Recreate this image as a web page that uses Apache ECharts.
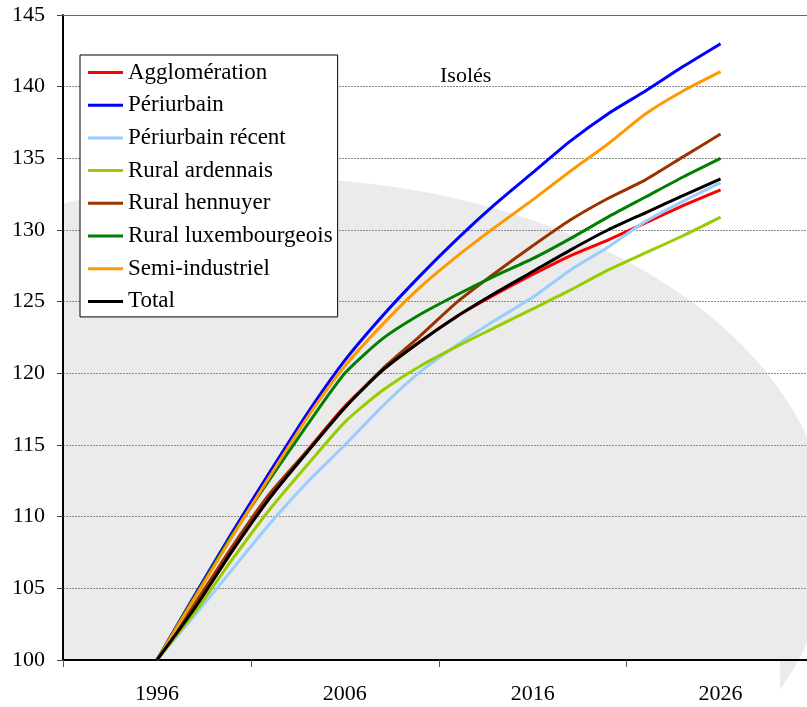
<!DOCTYPE html>
<html>
<head>
<meta charset="utf-8">
<script src="https://cdn.jsdelivr.net/npm/echarts@6/dist/echarts.min.js"></script>
<style>
html,body{margin:0;padding:0;background:#fff;}
#chart{width:807px;height:707px;}
</style>
</head>
<body>
<div id="chart"></div>
<script>
// ---- data ----
const years = [1996, 1998, 2000, 2002, 2004, 2006, 2008, 2010, 2012, 2014, 2016, 2018, 2020, 2022, 2024, 2026];
const seriesNames = ['Agglomération', 'Périurbain', 'Périurbain récent', 'Rural ardennais', 'Rural hennuyer', 'Rural luxembourgeois', 'Semi-industriel', 'Total'];
const agglomeration      = [100, 103.6, 107.6, 111.3, 114.6, 117.7, 120.2, 122.2, 124.0, 125.5, 126.9, 128.2, 129.3, 130.5, 131.7, 132.8];
const periurbain         = [100, 104.5, 108.9, 113.1, 117.2, 120.9, 124.0, 126.8, 129.4, 131.8, 134.0, 136.2, 138.1, 139.7, 141.4, 143.0];
const periurbainRecent   = [100, 103.1, 106.3, 109.5, 112.4, 115.0, 117.7, 120.1, 122.0, 123.7, 125.3, 127.2, 128.8, 130.6, 132.0, 133.3];
const ruralArdennais     = [100, 103.3, 107.0, 110.5, 113.6, 116.6, 118.8, 120.5, 121.9, 123.2, 124.5, 125.8, 127.2, 128.4, 129.6, 130.9];
const ruralHennuyer      = [100, 103.9, 107.9, 111.6, 114.6, 117.6, 120.3, 122.6, 125.0, 127.0, 128.9, 130.7, 132.2, 133.5, 135.1, 136.7];
const ruralLuxembourgeois= [100, 104.4, 108.7, 112.6, 116.4, 120.0, 122.4, 124.1, 125.5, 126.8, 128.0, 129.4, 130.9, 132.3, 133.7, 135.0];
const semiIndustriel     = [100, 104.3, 108.6, 112.8, 116.9, 120.5, 123.4, 126.0, 128.2, 130.2, 132.1, 134.1, 136.0, 138.1, 139.7, 141.05];
const total              = [100, 103.6, 107.6, 111.3, 114.5, 117.6, 120.2, 122.2, 124.0, 125.6, 127.1, 128.6, 130.0, 131.2, 132.4, 133.56];
const xTickYears  = [1991, 2001, 2011, 2021];
const xLabelYears = [1996, 2006, 2016, 2026];
const subtitle = 'Isolés';

const values = [agglomeration, periurbain, periurbainRecent, ruralArdennais, ruralHennuyer, ruralLuxembourgeois, semiIndustriel, total];
const colors = ['#ff0000', '#0000ff', '#99ccff', '#99cc00', '#993300', '#008000', '#ff9900', '#000000'];

const FONT = 'Liberation Serif';
const chart = echarts.init(document.getElementById('chart'), null, {renderer: 'canvas'});

const series = seriesNames.map((name, i) => ({
  name: name,
  type: 'line',
  data: years.map((y, k) => [y, values[i][k]]),
  symbol: 'none',
  smooth: 0.2,
  lineStyle: {color: colors[i], width: 3},
  itemStyle: {color: colors[i]},
  z: 3 + i
}));

chart.setOption({
  animation: false,
  backgroundColor: '#fff',
  color: colors,
  title: {
    text: subtitle, left: 440, top: 65, padding: 0,
    textStyle: {fontFamily: FONT, fontSize: 22, fontWeight: 'normal', color: '#000'}
  },
  graphic: [
    {type: 'ellipse', shape: {cx: 270, cy: 540, rx: 560, ry: 362}, style: {fill: '#ebebeb'}, z: -10, silent: true},
    {type: 'rect', shape: {x: 0, y: 0, width: 62, height: 707}, style: {fill: '#fff'}, z: -9, silent: true},
    {type: 'rect', shape: {x: 0, y: 661, width: 780, height: 46}, style: {fill: '#fff'}, z: -9, silent: true}
  ],
  legend: {
    orient: 'vertical', left: 80, top: 55,
    padding: [6, 5, 4, 8],
    itemGap: 9.7, itemWidth: 35, itemHeight: 3, icon: 'rect',
    backgroundColor: '#fff', borderColor: '#000', borderWidth: 1,
    textStyle: {fontFamily: FONT, fontSize: 23, color: '#000', lineHeight: 22},
    data: seriesNames
  },
  grid: {left: 63, right: 0, top: 15, bottom: 47, containLabel: false},
  xAxis: [
    {
      type: 'value', min: 1991, max: 2030.6,
      splitLine: {show: false},
      axisLine: {show: true, lineStyle: {color: '#000', width: 2}},
      axisTick: {show: true, customValues: xTickYears, length: 7, lineStyle: {color: '#555', width: 1}},
      axisLabel: {customValues: xLabelYears, formatter: v => String(v), fontFamily: FONT, fontSize: 22, color: '#000', margin: 23}
    },
    {
      type: 'value', position: 'top', min: 1991, max: 2030.6,
      splitLine: {show: false},
      axisLine: {show: true, lineStyle: {color: '#666', width: 1}},
      axisTick: {show: false}, axisLabel: {show: false}
    }
  ],
  yAxis: {
    type: 'value', min: 100, max: 145, interval: 5,
    axisLine: {show: true, lineStyle: {color: '#000', width: 2}},
    axisTick: {show: true, length: 6, lineStyle: {color: '#444', width: 1}},
    axisLabel: {fontFamily: FONT, fontSize: 22, color: '#000', margin: 18},
    splitLine: {show: true, lineStyle: {color: '#8a8a8a', width: 1, type: [2, 1]}}
  },
  series: series
});
</script>
</body>
</html>
